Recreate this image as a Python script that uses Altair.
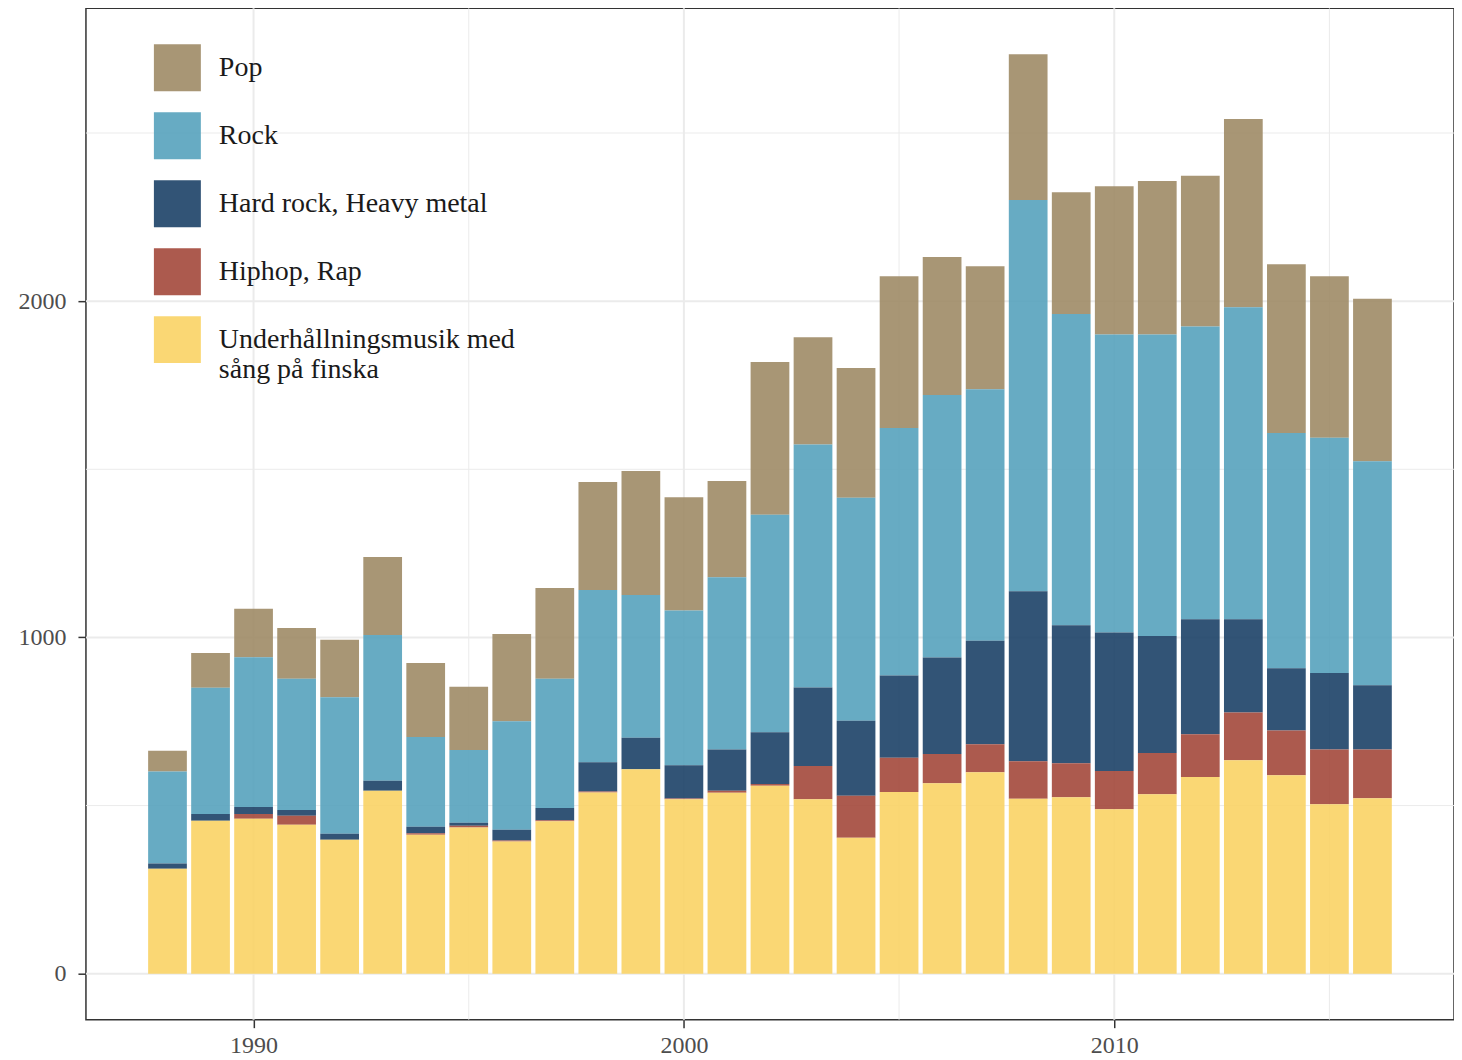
import altair as alt
import pandas as pd

years = list(range(1988, 2017))
finska = [312, 455, 461, 443, 398, 544, 413, 435, 393, 453, 539, 608, 519, 538, 559,
          519, 404, 540, 566, 599, 520, 525, 489, 534, 585, 635, 590, 504, 522]
hiphop = [0, 0, 14, 27, 0, 0, 5, 5, 3, 3, 3, 0, 2, 6, 5,
          99, 125, 102, 87, 83, 112, 101, 114, 122, 127, 142, 133, 163, 145]
hardrock = [16, 20, 21, 17, 18, 30, 19, 9, 32, 37, 87, 94, 99, 123, 154,
            233, 223, 245, 287, 308, 505, 410, 412, 348, 342, 277, 185, 227, 191]
rock = [273, 375, 445, 390, 406, 433, 267, 216, 323, 384, 512, 424, 460, 512, 647,
        723, 663, 736, 781, 748, 1164, 926, 886, 897, 871, 928, 700, 700, 666]
pop = [62, 104, 144, 151, 171, 232, 220, 188, 259, 270, 321, 369, 337, 286, 454,
       319, 386, 451, 410, 366, 433, 362, 441, 456, 448, 560, 502, 480, 483]

genres = ["Pop", "Rock", "Hard rock, Heavy metal", "Hiphop, Rap",
          "Underhållningsmusik med sång på finska"]
colors = ["#9f8b66", "#56a2bd", "#1c4167", "#a3483b", "#f9d365"]
series = [pop, rock, hardrock, hiphop, finska]

x_major = [1990, 2000, 2010]
x_minor = [1995, 2005, 2015]
y_major = [0, 1000, 2000]
y_minor = [500, 1500, 2500]

rows = []
for gi, (g, vals) in enumerate(zip(genres, series)):
    for yr, v in zip(years, vals):
        rows.append({"year": yr, "genre": g, "value": v, "order": len(genres) - gi})
df = pd.DataFrame(rows)

x_scale = alt.Scale(domain=[1986.105, 2017.895], nice=False, zero=False)
y_scale = alt.Scale(domain=[-136.7, 2870.7], nice=False, zero=False)
x_axis = alt.Axis(values=x_major, format="d", labelPadding=6, title=None)
y_axis = alt.Axis(values=y_major, format="d", labelPadding=12, title=None)

grid_color = "#ebebeb"
vmaj = alt.Chart(pd.DataFrame({"gx": x_major})).mark_rule(color=grid_color, strokeWidth=2).encode(
    x=alt.X("gx:Q", scale=x_scale, axis=x_axis))
vmin = alt.Chart(pd.DataFrame({"gx": x_minor})).mark_rule(color=grid_color, strokeWidth=1).encode(
    x=alt.X("gx:Q", scale=x_scale, axis=x_axis))
hmaj = alt.Chart(pd.DataFrame({"gy": y_major})).mark_rule(color=grid_color, strokeWidth=2).encode(
    y=alt.Y("gy:Q", scale=y_scale, axis=y_axis))
hmin = alt.Chart(pd.DataFrame({"gy": y_minor})).mark_rule(color=grid_color, strokeWidth=1).encode(
    y=alt.Y("gy:Q", scale=y_scale, axis=y_axis))

long_label = "Underhållningsmusik med sång på finska"
label_expr = (f"datum.label == '{long_label}' ? "
              "['Underhållningsmusik med', 'sång på finska'] : datum.label")

bars = alt.Chart(df).transform_stack(
    stack="value", groupby=["year"], as_=["v0", "v1"],
    sort=[alt.SortField("order", order="ascending")]
).transform_calculate(
    x0="datum.year - 0.45", x1="datum.year + 0.45"
).mark_rect(opacity=0.9).encode(
    x=alt.X("x0:Q", scale=x_scale, axis=x_axis),
    x2="x1:Q",
    y=alt.Y("v0:Q", scale=y_scale, axis=y_axis),
    y2="v1:Q",
    color=alt.Color("genre:N", scale=alt.Scale(domain=genres, range=colors),
                    legend=alt.Legend(title=None, orient="none", legendX=68, legendY=36,
                                      symbolType="square", symbolSize=2209,
                                      symbolStrokeWidth=0, symbolOpacity=0.9,
                                      labelFont="Liberation Serif", labelFontSize=28,
                                      labelColor="#1a1a1a", labelOffset=18,
                                      rowPadding=21, padding=0, labelLimit=700,
                                      labelExpr=label_expr)),
)

chart = alt.layer(vmin, vmaj, hmin, hmaj, bars).properties(
    width=1369, height=1012,
    autosize=alt.AutoSizeParams(type="none"),
    padding={"left": 78, "top": 0, "right": 0, "bottom": 44},
).configure_view(
    stroke="#333333", strokeWidth=1.5
).configure_axis(
    labelFont="Liberation Serif", labelFontSize=24, labelColor="#4d4d4d",
    tickColor="#333333", tickWidth=1.5, tickSize=8, domain=False, grid=False
)

chart.save("out.html", embed_options={"renderer": "svg", "actions": False})
